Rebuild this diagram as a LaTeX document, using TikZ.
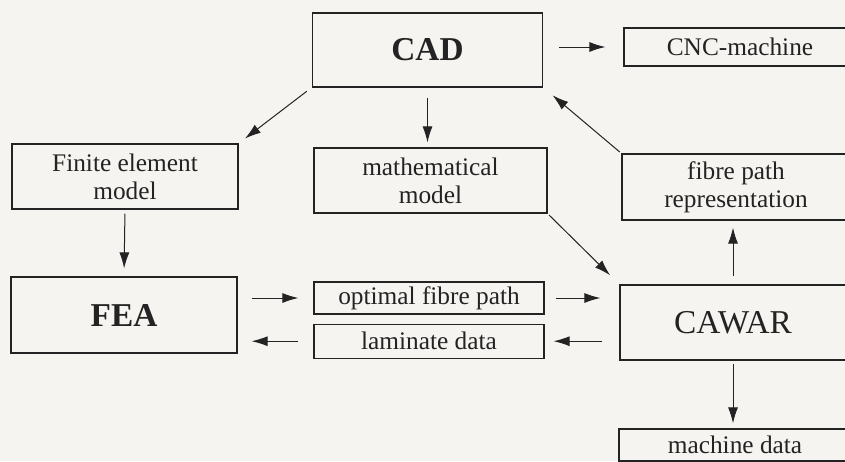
\documentclass[tikz,border=0pt]{standalone}
\usepackage{fontspec}
\setmainfont{Liberation Serif}
\usepackage{tikz}
\usetikzlibrary{arrows.meta,positioning}
\definecolor{paper}{RGB}{245,244,241}
\definecolor{ink}{RGB}{35,35,35}
\tikzset{
	block/.style={draw=ink, line width=0.9pt, text=ink, align=center, inner sep=0pt,
		font=\fontsize{19}{21}\selectfont},
	bigblock/.style={block, font=\fontsize{25}{28}\selectfont},
	flow/.style={draw=ink, line width=0.75pt, -{Latex[length=12pt,width=7.5pt]}}
}

\begin{document}
\begin{tikzpicture}[x=0.75pt,y=-0.75pt]
		\fill[paper] (0,0) rectangle (845,461);
		\clip (0,0) rectangle (845,461);
		% Define nodes
		\node[bigblock, minimum width=173pt, minimum height=55.5pt] (CAD) at (427.5,50) {\textbf{CAD}};
		\node[block, minimum width=174pt, minimum height=28.5pt] (CNC) at (740,47) {CNC-machine};
		\node[block, minimum width=169.5pt, minimum height=48.75pt] (FEM) at (125,176.5) {Finite element\\model};
		\node[block, minimum width=174.75pt, minimum height=48.75pt] (Math) at (430.5,180.5) {mathematical\\model};
		\node[block, minimum width=171pt, minimum height=49.5pt] (Fibre) at (736,187) {fibre path\\representation};
		\node[bigblock, minimum width=169.5pt, minimum height=57pt] (FEA) at (124,315) {\textbf{FEA}};
		\node[block, minimum width=172.5pt, minimum height=24pt] (Opt) at (429,298) {optimal fibre path};
		\node[block, minimum width=172.5pt, minimum height=25.5pt, below=6.75pt of Opt] (Lam) {laminate data};
		\node[bigblock, minimum width=169.5pt, minimum height=56.25pt] (CAWAR) at (733,322.5) {CAWAR};
		\node[block, minimum width=174pt, minimum height=24pt] (Mach) at (735,445) {machine data};

		% Connect the nodes
		\draw[flow, shorten <=12pt, shorten >=13.5pt] (CAD.east |- CNC) -- (CNC.west);
		\draw[flow, shorten <=4.4pt, shorten >=6pt] (CAD.south west) -- (FEM.north east);
		\draw[flow, shorten <=7.5pt, shorten >=3.75pt] (CAD.south) -- (CAD.south |- Math.north);
		\draw[flow, shorten <=1.5pt, shorten >=9pt] (Fibre.north west) -- (CAD.south east);
		\draw[flow, shorten <=1.5pt, shorten >=9.75pt] (Math.south east) -- (CAWAR.north west);
		\draw[flow, shorten <=3pt, shorten >=6pt] (FEM.south) -- (FEA.north);
		\draw[flow, shorten <=10.5pt, shorten >=11.25pt] (Opt.west -| FEA.east) -- (Opt.west);
		\draw[flow, shorten <=8.25pt, shorten >=14.25pt] (Opt.east) -- (Opt.east -| CAWAR.west);
		\draw[flow, shorten <=12.75pt, shorten >=6.75pt] (Lam.east -| CAWAR.west) -- (Lam.east);
		\draw[flow, shorten <=11.25pt, shorten >=10.5pt] (Lam.west) -- (Lam.west -| FEA.east);
		\draw[flow, shorten <=6pt, shorten >=5.25pt] (CAWAR.north) -- (CAWAR.north |- Fibre.south);
		\draw[flow, shorten <=2.25pt, shorten >=3.75pt] (CAWAR.south) -- (CAWAR.south |- Mach.north);
	\end{tikzpicture}
\end{document}
